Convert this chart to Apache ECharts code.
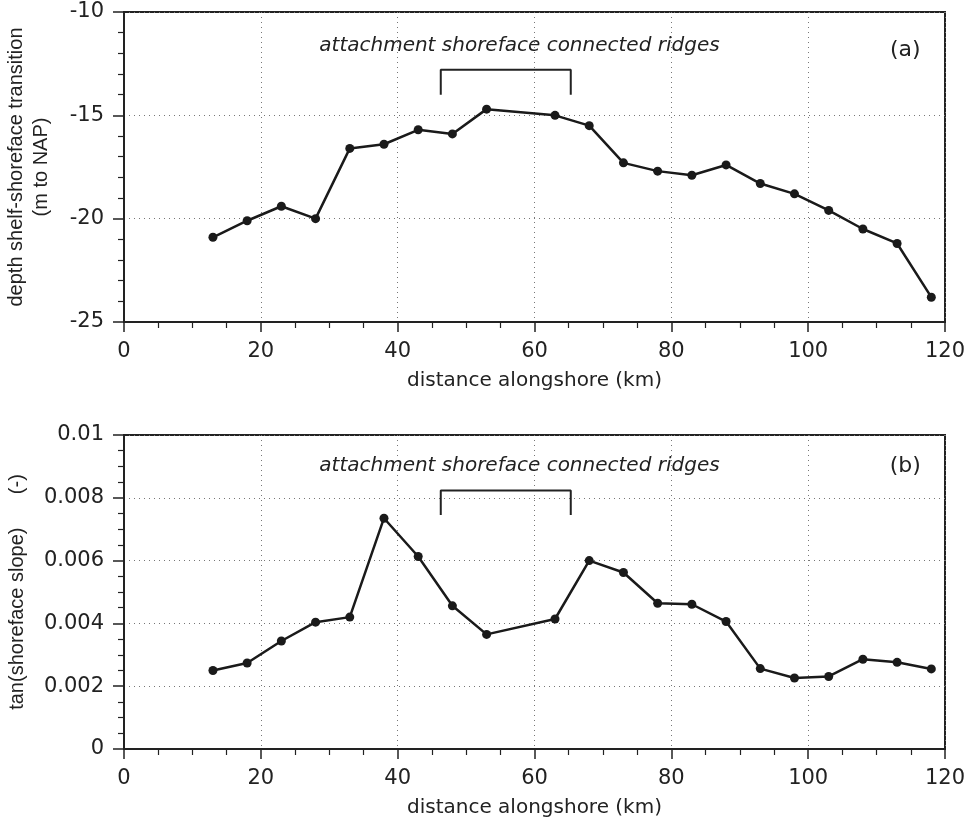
<!DOCTYPE html>
<html>
<head>
<meta charset="utf-8">
<script src="https://cdn.jsdelivr.net/npm/echarts@6/dist/echarts.min.js"></script>
<style>
  html, body { margin: 0; padding: 0; background: #fff; }
  #chart { width: 972px; height: 821px; }
</style>
</head>
<body>
<div id="chart"></div>
<script>
// distance alongshore (km), shared by both panels
const distance = [13, 18, 23, 28, 33, 38, 43, 48, 53, 63, 68, 73, 78, 83, 88, 93, 98, 103, 108, 113, 118];
// (a) depth of shelf-shoreface transition (m to NAP)
const depth = [-20.9, -20.1, -19.4, -20.0, -16.6, -16.4, -15.7, -15.9, -14.7, -15.0, -15.5,
  -17.3, -17.7, -17.9, -17.4, -18.3, -18.8, -19.6, -20.5, -21.2, -23.8];
// (b) tan(shoreface slope)
const slope = [0.0025, 0.00274, 0.00344, 0.00404, 0.0042, 0.00735, 0.00613, 0.00456, 0.00365,
  0.00414, 0.006, 0.00562, 0.00464, 0.00461, 0.00406, 0.00256, 0.00226, 0.00231, 0.00286, 0.00276, 0.00255];

// bracket marking the attachment of shoreface connected ridges
const bracketX = [46.3, 46.3, 65.3, 65.3];
const bracketDepth = [-14.0, -12.8, -12.8, -14.0];
const bracketSlope = [0.00745, 0.00823, 0.00823, 0.00745];
const ridgeLabel = 'attachment shoreface connected ridges';
const ridgeLabelX = 57.8;
const ridgeLabelDepth = -11.63;
const ridgeLabelSlope = 0.00901;
const panelLabels = ['(a)', '(b)'];
const panelLabelX = 114.2;
const panelLabelDepth = -11.87;
const panelLabelSlope = 0.009;

const ink = '#222';
const tickFont = 'DejaVu Sans';
const titleFont = 'Liberation Sans';

const zip = (xs, ys) => xs.map((x, i) => [x, ys[i]]);

function xAxis(gridIndex) {
  return {
    type: 'value', gridIndex: gridIndex, min: 0, max: 120, interval: 20,
    name: 'distance alongshore (km)', nameLocation: 'middle', nameGap: 49,
    nameTextStyle: { fontFamily: tickFont, fontSize: 20, color: ink },
    axisLine: { lineStyle: { color: ink, width: 2 } },
    axisTick: { inside: false, length: 10, lineStyle: { color: ink, width: 1.5 } },
    minorTick: { show: true, splitNumber: 4, length: 6, lineStyle: { color: ink, width: 1.2 } },
    axisLabel: { fontFamily: tickFont, fontSize: 21, color: ink, margin: 19 },
    splitLine: { show: true, lineStyle: { color: '#777', width: 1, type: [1, 4] } }
  };
}

function yAxis(gridIndex, min, max, interval, minorSplit, name, nameGap) {
  return {
    type: 'value', gridIndex: gridIndex, min: min, max: max, interval: interval,
    name: name, nameLocation: 'middle', nameGap: nameGap,
    nameTextStyle: { fontFamily: titleFont, fontSize: 20, color: ink, lineHeight: 25 },
    axisLine: { lineStyle: { color: ink, width: 2 } },
    axisTick: { inside: false, length: 11, lineStyle: { color: ink, width: 1.5 } },
    minorTick: { show: true, splitNumber: minorSplit, length: 6, lineStyle: { color: ink, width: 1.2 } },
    axisLabel: { fontFamily: tickFont, fontSize: 21, color: ink, margin: 20 },
    splitLine: { show: true, lineStyle: { color: '#777', width: 1, type: [1, 4] } }
  };
}

function profile(name, idx, values) {
  return {
    name: name, type: 'line', xAxisIndex: idx, yAxisIndex: idx,
    data: zip(distance, values),
    symbol: 'circle', symbolSize: 9,
    itemStyle: { color: '#1a1a1a' },
    lineStyle: { color: '#1a1a1a', width: 2.5 }
  };
}

function bracket(idx, ys) {
  return {
    type: 'line', xAxisIndex: idx, yAxisIndex: idx, data: zip(bracketX, ys),
    symbol: 'none', silent: true,
    lineStyle: { color: ink, width: 2 }
  };
}

function note(idx, x, y, text, italic, size) {
  return {
    type: 'scatter', xAxisIndex: idx, yAxisIndex: idx, data: [[x, y]],
    symbolSize: 1, itemStyle: { color: 'rgba(0,0,0,0)', opacity: 1 }, silent: true,
    label: {
      show: true, position: 'inside', formatter: text, color: ink,
      fontFamily: tickFont, fontSize: size, fontStyle: italic ? 'italic' : 'normal'
    }
  };
}

const chart = echarts.init(document.getElementById('chart'));
chart.setOption({
  animation: false,
  backgroundColor: '#fff',
  grid: [
    { left: 124, right: 27, top: 12, height: 310, outerBoundsMode: 'none', show: true, borderColor: ink, borderWidth: 2, backgroundColor: 'transparent' },
    { left: 124, right: 27, top: 435, height: 314, outerBoundsMode: 'none', show: true, borderColor: ink, borderWidth: 2, backgroundColor: 'transparent' }
  ],
  xAxis: [xAxis(0), xAxis(1)],
  yAxis: [
    yAxis(0, -25, -10, 5, 5, 'depth shelf-shoreface transition\n(m to NAP)', 70),
    yAxis(1, 0, 0.01, 0.002, 4, 'tan(shoreface slope)      (-)', 94)
  ],
  series: [
    profile('depth', 0, depth),
    profile('slope', 1, slope),
    bracket(0, bracketDepth),
    bracket(1, bracketSlope),
    note(0, ridgeLabelX, ridgeLabelDepth, ridgeLabel, true, 20),
    note(1, ridgeLabelX, ridgeLabelSlope, ridgeLabel, true, 20),
    note(0, panelLabelX, panelLabelDepth, panelLabels[0], false, 22),
    note(1, panelLabelX, panelLabelSlope, panelLabels[1], false, 22)
  ]
});
</script>
</body>
</html>
